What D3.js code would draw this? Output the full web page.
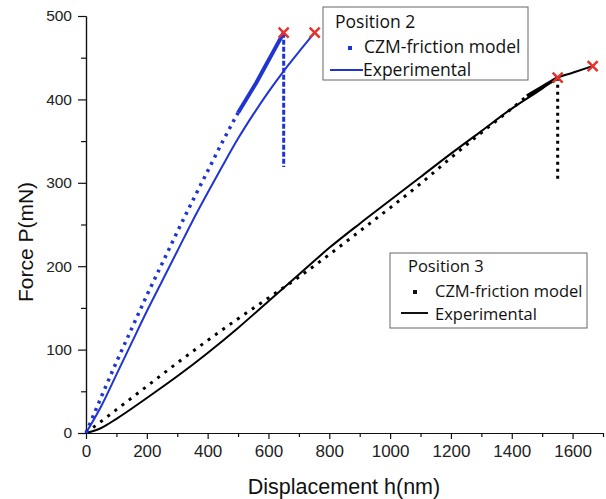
<!DOCTYPE html>
<html>
	<head>
		<meta charset="utf-8">
		<style type="text/css">
			body { margin: 0; background: #fff; }
			.axis text { font-family: "Liberation Sans", Arial, sans-serif; fill: #222; }
			.axis path, .axis line { stroke: #111; stroke-width: 1.2; }
			.legend text { font-family: "Open Sans", "Liberation Sans", sans-serif; fill: #111; }
		</style>
		<title>Force vs displacement</title>
	</head>
	<body>
		<script src="https://cdn.jsdelivr.net/npm/d3@7"></script>
		<script>

// Position 2 (blue)
var pos2ModelH  = [0, 50, 100, 150, 200, 250, 300, 350, 400, 450, 500];
var pos2ModelP  = [0, 43, 85, 125, 165, 203, 241, 278, 314, 350, 384];
var pos2DenseH  = [500, 530, 560, 590, 620, 650];
var pos2DenseP  = [384, 402, 420, 440, 460, 480];
var pos2DropH   = [650, 650];
var pos2DropP   = [480, 319];
var pos2ExpH    = [0, 50, 100, 150, 200, 250, 300, 350, 400, 450, 500, 550, 600, 650, 700, 752];
var pos2ExpP    = [0, 32, 70, 108, 146, 182, 218, 254, 288, 321, 353, 382, 409, 434, 457, 480];

// Position 3 (black)
var pos3ModelH  = [0, 50, 100, 200, 300, 400, 500, 600, 700, 800, 900, 1000, 1100, 1200, 1300, 1400, 1450];
var pos3ModelP  = [0, 14, 28, 56, 84, 111, 137, 162, 187, 214, 242, 270, 299, 330, 360, 389, 404];
var pos3DenseH  = [1450, 1500, 1551];
var pos3DenseP  = [404, 415, 426];
var pos3DropH   = [1551, 1551];
var pos3DropP   = [426, 303];
var pos3ExpH    = [0, 50, 100, 200, 300, 400, 500, 600, 700, 800, 900, 1000, 1100, 1200, 1300, 1400, 1500, 1551, 1600, 1666];
var pos3ExpP    = [0, 6, 17, 42, 68, 96, 126, 158, 190, 222, 251, 279, 307, 335, 362, 389, 413, 426, 432, 440];

// failure points (red crosses)
var failH = [650, 752, 1551, 1666];
var failP = [480, 480, 426, 440];

var xMajor = [0, 200, 400, 600, 800, 1000, 1200, 1400, 1600];
var xMinor = [100, 300, 500, 700, 900, 1100, 1300, 1500, 1700];
var yMajor = [0, 100, 200, 300, 400, 500];
var yMinor = [50, 150, 250, 350, 450];

var blue = '#1f35d2';
var red = '#e5322b';

var width = 606, height = 499;

var x = d3.scaleLinear().domain([0, 1700]).range([86, 603]);
var y = d3.scaleLinear().domain([0, 500]).range([433, 16]);

var svg = d3.select('body').append('svg')
	.attr('width', width)
	.attr('height', height);

function pts(hs, ps) { return hs.map((h, i) => [h, ps[i]]); }

var line = d3.line()
	.x(d => x(d[0]))
	.y(d => y(d[1]));

// axes
svg.append('g').attr('class', 'axis')
	.attr('transform', `translate(0,${y(0)})`)
	.call(d3.axisBottom(x).tickValues(xMinor).tickSize(4).tickSizeOuter(0).tickFormat(''));
svg.append('g').attr('class', 'axis')
	.attr('transform', `translate(0,${y(0)})`)
	.call(d3.axisBottom(x).tickValues(xMajor).tickSize(6).tickSizeOuter(0).tickPadding(6).tickFormat(d3.format('d')))
	.selectAll('text').style('font-size', '17px');

svg.append('g').attr('class', 'axis')
	.attr('transform', `translate(${x(0)},0)`)
	.call(d3.axisLeft(y).tickValues(yMinor).tickSize(5).tickSizeOuter(0).tickFormat(''));
svg.append('g').attr('class', 'axis')
	.attr('transform', `translate(${x(0)},0)`)
	.call(d3.axisLeft(y).tickValues(yMajor).tickSize(8).tickSizeOuter(0).tickPadding(6).tickFormat(d3.format('d')))
	.selectAll('text').style('font-size', '15.5px');

svg.append('text')
	.text('Displacement h(nm)')
	.attr('x', 344).attr('y', 494)
	.attr('text-anchor', 'middle')
	.style('font-family', '"Liberation Sans", Arial, sans-serif')
	.style('font-size', '21.5px')
	.style('fill', '#111');

svg.append('text')
	.text('Force P(mN)')
	.attr('transform', 'translate(33,242) rotate(-90)')
	.attr('text-anchor', 'middle')
	.style('font-family', '"Liberation Sans", Arial, sans-serif')
	.style('font-size', '21px')
	.style('fill', '#111');

var smooth = d3.line()
	.x(d => x(d[0]))
	.y(d => y(d[1]))
	.curve(d3.curveMonotoneX);

// experimental curves
svg.append('path').datum(pts(pos3ExpH, pos3ExpP))
	.attr('d', smooth)
	.attr('fill', 'none').attr('stroke', '#000').attr('stroke-width', 2);
svg.append('path').datum(pts(pos2ExpH, pos2ExpP))
	.attr('d', smooth)
	.attr('fill', 'none').attr('stroke', blue).attr('stroke-width', 2);

// model curves, drawn as dotted markers
svg.append('path').datum(pts(pos3ModelH, pos3ModelP))
	.attr('d', smooth)
	.attr('fill', 'none').attr('stroke', '#000').attr('stroke-width', 3)
	.attr('stroke-dasharray', '3,6');
svg.append('path').datum(pts(pos3DenseH, pos3DenseP))
	.attr('d', line)
	.attr('fill', 'none').attr('stroke', '#000').attr('stroke-width', 3.5);
svg.append('path').datum(pts(pos3DropH, pos3DropP))
	.attr('d', line)
	.attr('fill', 'none').attr('stroke', '#000').attr('stroke-width', 3)
	.attr('stroke-dasharray', '3,4');

svg.append('path').datum(pts(pos2ModelH, pos2ModelP))
	.attr('d', smooth)
	.attr('fill', 'none').attr('stroke', blue).attr('stroke-width', 3.5)
	.attr('stroke-dasharray', '3,5');
svg.append('path').datum(pts(pos2DenseH, pos2DenseP))
	.attr('d', line)
	.attr('fill', 'none').attr('stroke', blue).attr('stroke-width', 4);
svg.append('path').datum(pts(pos2DropH, pos2DropP))
	.attr('d', line)
	.attr('fill', 'none').attr('stroke', blue).attr('stroke-width', 3)
	.attr('stroke-dasharray', '5,2');

// red crosses at failure
svg.append('g').selectAll('path')
	.data(pts(failH, failP))
	.join('path')
	.attr('d', d => {
		let cx = x(d[0]), cy = y(d[1]), r = 5;
		return `M${cx-r},${cy-r}L${cx+r},${cy+r}M${cx-r},${cy+r}L${cx+r},${cy-r}`;
	})
	.attr('stroke', red).attr('stroke-width', 2.5).attr('fill', 'none');

// legends
function legend(g, box, title, color, fs, rows) {
	g.append('rect')
		.attr('x', box[0]).attr('y', box[1])
		.attr('width', box[2]).attr('height', box[3])
		.attr('fill', '#fff').attr('stroke', '#666').attr('stroke-width', 1);
	g.append('text').text(title)
		.attr('x', rows.titleX).attr('y', rows.titleY)
		.style('font-size', fs + 'px');
	g.append('rect')
		.attr('x', rows.sqX - 2).attr('y', rows.sqY - 2)
		.attr('width', 4).attr('height', 4)
		.attr('fill', color);
	g.append('text').text('CZM-friction model')
		.attr('x', rows.textX).attr('y', rows.row1Y)
		.style('font-size', fs + 'px');
	g.append('line')
		.attr('x1', rows.lineX[0]).attr('x2', rows.lineX[1])
		.attr('y1', rows.lineY).attr('y2', rows.lineY)
		.attr('stroke', color).attr('stroke-width', 2);
	g.append('text').text('Experimental')
		.attr('x', rows.expX).attr('y', rows.row2Y)
		.style('font-size', fs + 'px');
}

legend(svg.append('g').attr('class', 'legend'), [323, 7, 205, 73], 'Position 2', blue, 17.5,
	{titleX: 335, titleY: 28, sqX: 350, sqY: 48, textX: 364, row1Y: 53, lineX: [330, 363], lineY: 70, expX: 363, row2Y: 76});
legend(svg.append('g').attr('class', 'legend'), [390, 253, 197, 75], 'Position 3', '#111', 16.5,
	{titleX: 408, titleY: 272, sqX: 415, sqY: 292, textX: 435, row1Y: 297, lineX: [401, 428], lineY: 313, expX: 435, row2Y: 320});

		</script>
	</body>
</html>
